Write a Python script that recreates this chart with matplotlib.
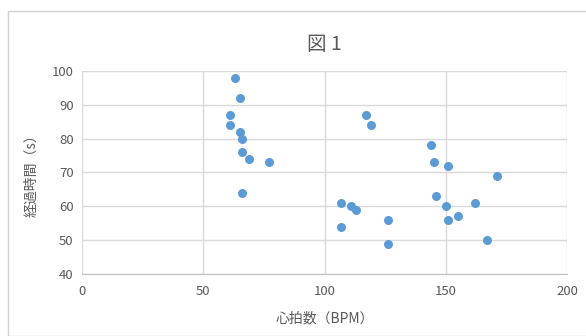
import matplotlib
matplotlib.use("Agg")
import matplotlib.pyplot as plt
from matplotlib.patches import Rectangle

plt.rcParams['font.family'] = ['Noto Sans CJK JP', 'DejaVu Sans']

# heart rate (BPM) and elapsed time (s)
bpm = [63, 65, 61, 61, 65, 66, 66, 69, 77, 66,
       117, 119, 107, 111, 113, 126, 107, 126,
       144, 145, 151, 171, 146, 162, 150, 155, 151, 167]
sec = [98, 92, 87, 84, 82, 80, 76, 74, 73, 64,
       87, 84, 61, 60, 59, 56, 54, 49,
       78, 73, 72, 69, 63, 61, 60, 57, 56, 50]

x_ticks = [0, 50, 100, 150, 200]
y_ticks = [40, 50, 60, 70, 80, 90, 100]

gray = '#595959'
grid = '#d9d9d9'

fig = plt.figure(figsize=(5.86, 3.36), dpi=100)
# chart frame
fig.patches.append(Rectangle((8 / 586, 0), 1, 1 - 11 / 336, transform=fig.transFigure,
                             fill=False, edgecolor='#d0d0d0', linewidth=1))

ax = fig.add_axes([82 / 586, 1 - 274 / 336, 485 / 586, 203 / 336])
ax.scatter(bpm, sec, s=42, color='#5B9BD5', zorder=3, linewidths=0)

ax.set_xlim(0, 200)
ax.set_ylim(40, 100)
ax.set_xticks(x_ticks)
ax.set_yticks(y_ticks)
ax.grid(True, color=grid, linewidth=1)
ax.set_axisbelow(True)
for s in ['top', 'right', 'left']:
    ax.spines[s].set_visible(False)
ax.spines['bottom'].set_color('#bfbfbf')
ax.tick_params(length=0, colors=gray, labelsize=9.5)
ax.tick_params(axis='x', pad=8)
ax.tick_params(axis='y', pad=6)

ax.set_title('図 1', fontsize=14, color=gray, pad=15)
ax.set_xlabel('心拍数（BPM）', fontsize=10, color=gray, labelpad=10)
ax.set_ylabel('経過時間（s）', fontsize=10, color=gray, labelpad=10)

fig.savefig('out.png', dpi=100)
